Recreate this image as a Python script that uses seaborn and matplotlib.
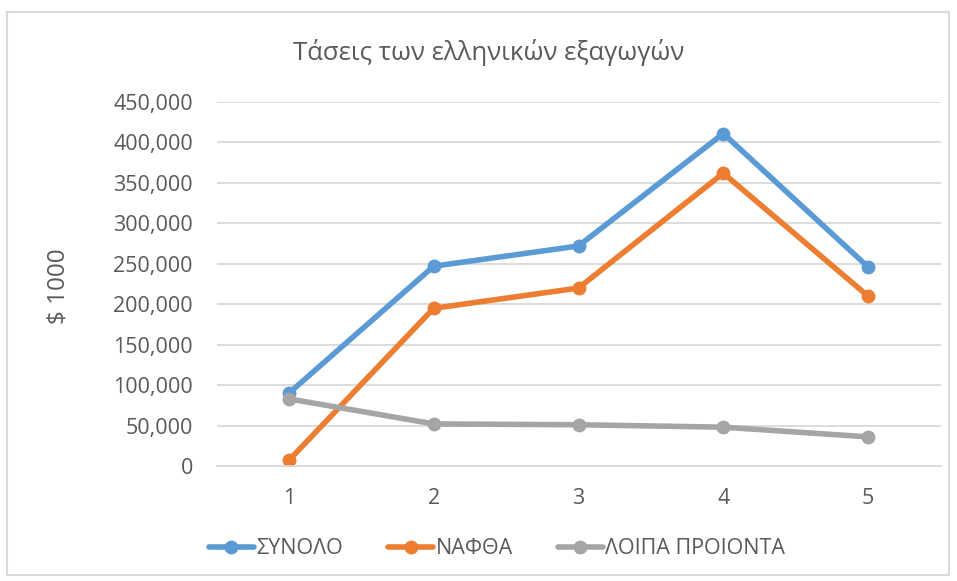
import pandas as pd
import numpy as np
import seaborn as sns
import matplotlib.pyplot as plt
from matplotlib.patches import Rectangle
from matplotlib.ticker import FuncFormatter, FixedLocator

years = [1, 2, 3, 4, 5]
synolo = [90000, 247000, 272000, 411000, 246000]
nafta = [7000, 195000, 220000, 362000, 210000]
loipa = [83000, 52000, 51000, 48000, 36000]
series_names = ["ΣΥΝΟΛΟ", "ΝΑΦΘΑ", "ΛΟΙΠΑ ΠΡΟΙΟΝΤΑ"]
colors = ["#5B9BD5", "#ED7D31", "#A5A5A5"]

df = pd.DataFrame({"x": years * 3,
                   "value": synolo + nafta + loipa,
                   "series": np.repeat(series_names, len(years))})

sns.set_style("white")
plt.rcParams["font.family"] = ["Open Sans", "DejaVu Sans"]
txt = "#595959"

fig = plt.figure(figsize=(9.57, 5.81), dpi=100)
ax = fig.add_axes([216.5 / 957, 115 / 581, 724 / 957, 364 / 581])

sns.lineplot(data=df, x="x", y="value", hue="series", hue_order=series_names,
             palette=colors, marker="o", markersize=10, markeredgewidth=0,
             linewidth=4, ax=ax)

ax.set_xlim(0.5, 5.5)
ax.set_ylim(0, 450000)
ax.set_yticks(np.arange(0, 450001, 50000))
ax.yaxis.set_major_formatter(FuncFormatter(lambda v, p: f"{int(v):,}"))
ax.set_xticks(years)
ax.xaxis.set_minor_locator(FixedLocator([0.5, 1.5, 2.5, 3.5, 4.5, 5.5]))
ax.grid(axis="y", color="#D9D9D9", linewidth=1.3)
ax.set_axisbelow(True)
for s in ["top", "right", "left"]:
    ax.spines[s].set_visible(False)
ax.spines["bottom"].set_color("#D9D9D9")
ax.spines["bottom"].set_linewidth(1.3)
ax.tick_params(axis="y", length=0, pad=17, labelsize=15.5, labelcolor=txt)
ax.tick_params(axis="x", which="major", length=0, pad=16, labelsize=15.5, labelcolor=txt)
ax.tick_params(axis="x", which="minor", length=8, width=1.3, color="#D9D9D9")

ax.set_xlabel("")
ax.set_ylabel("")
fig.text(59 / 957, 1 - 286 / 581, "$ 1000", rotation=90, fontsize=17.5, color=txt,
         ha="center", va="center")

fig.text(489 / 957, 1 - 52 / 581, "Τάσεις των ελληνικών εξαγωγών",
         fontsize=18.5, color=txt, ha="center", va="center")

leg = ax.legend(loc="center", bbox_to_anchor=(497 / 957, 1 - 549 / 581),
                bbox_transform=fig.transFigure, ncol=3, frameon=False,
                fontsize=15.5, handlelength=2.1, columnspacing=2.1, handletextpad=0.1)
for t in leg.get_texts():
    t.set_color(txt)
for h in leg.legend_handles:
    h.set_linewidth(4)
    h.set_markersize(10)

fig.patches.append(Rectangle((7 / 957, 6 / 581), 942 / 957, 563 / 581,
                             transform=fig.transFigure, fill=False,
                             edgecolor="#D9D9D9", linewidth=1.5))

fig.savefig("out.png", dpi=100)
